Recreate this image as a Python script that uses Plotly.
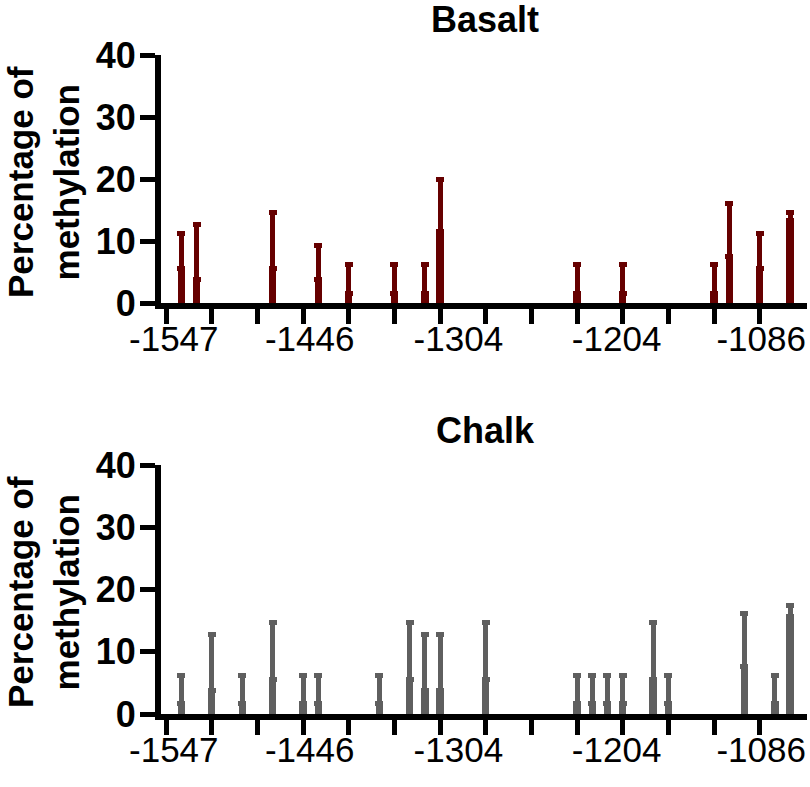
import plotly.graph_objects as go
from plotly.subplots import make_subplots

# ---- data ----
# site slot index along the promoter (ordered CpG sites)
basalt_sites = [1, 2, 7, 10, 12, 15, 17, 18, 27, 30, 36, 37, 39, 41]
basalt_mean = [5.6, 3.8, 5.6, 3.8, 1.65, 1.65, 1.65, 11.6, 1.65, 1.65, 1.65, 7.6, 5.6, 13.4]
basalt_err = [5.6, 8.9, 9.1, 5.5, 4.55, 4.55, 4.55, 8.4, 4.55, 4.55, 4.55, 8.5, 5.6, 1.3]

chalk_sites = [1, 3, 5, 7, 9, 10, 14, 16, 17, 18, 21, 27, 28, 29, 30, 32, 33, 38, 40, 41]
chalk_mean = [1.65, 3.7, 1.65, 5.6, 1.65, 1.65, 1.65, 5.6, 3.7, 3.7, 5.6, 1.65, 1.65, 1.65, 1.65, 5.6, 1.65, 7.6, 1.65, 15.7]
chalk_err = [4.55, 9.0, 4.55, 9.1, 4.55, 4.55, 4.55, 9.1, 9.0, 9.0, 9.1, 4.55, 4.55, 4.55, 4.55, 9.1, 4.55, 8.5, 4.55, 1.8]

tick_label_pos = [0.5, 9.43, 19.2, 29.6, 39.1]
tick_labels = ["-1547", "-1446", "-1304", "-1204", "-1086"]
minor_tick_pos = list(range(0, 42, 3))
y_ticks = [0, 10, 20, 30, 40]

panel_titles = ["Basalt", "Chalk"]
colors = ["#660000", "#5f5f5f"]

FONT = "Liberation Sans, Arial, sans-serif"

W, H = 810, 787
ML, MR, MT, MB = 161, 3, 55, 73
PW, PH = W - ML - MR, H - MT - MB

fig = make_subplots(rows=2, cols=1)

for i, (sites, mean, err) in enumerate([(basalt_sites, basalt_mean, basalt_err),
                                         (chalk_sites, chalk_mean, chalk_err)]):
    fig.add_trace(go.Bar(
        x=sites, y=mean, width=0.48,
        marker=dict(color=colors[i], line=dict(width=0)),
        error_y=dict(type="data", symmetric=False, array=err,
                     arrayminus=[0] * len(err), color=colors[i],
                     thickness=5, width=4),
        showlegend=False,
    ), row=i + 1, col=1)

xaxis_common = dict(
    range=[-0.34, 42.11], automargin=False,
    showline=True, linewidth=6, linecolor="black",
    tickmode="array", tickvals=tick_label_pos, ticktext=tick_labels,
    ticks="", ticklabelstandoff=0,
    tickfont=dict(family=FONT, size=35, color="black"),
    minor=dict(tickmode="array", tickvals=minor_tick_pos, ticks="outside",
               ticklen=15, tickwidth=5, tickcolor="black"),
    showgrid=False, zeroline=False,
)
yaxis_common = dict(
    range=[0, 40], automargin=False,
    showline=True, linewidth=6, linecolor="black",
    tickmode="array", tickvals=y_ticks,
    ticks="outside", ticklen=15, tickwidth=5, tickcolor="black",
    ticklabelstandoff=-3,
    tickfont=dict(family=FONT, size=36, color="black", weight="bold"),
    showgrid=False, zeroline=False,
)

fig.update_layout(
    width=W, height=H,
    margin=dict(l=ML, r=MR, t=MT, b=MB, autoexpand=False),
    plot_bgcolor="white", paper_bgcolor="white",
    bargap=0,
    xaxis=dict(domain=[0, 1], **xaxis_common),
    xaxis2=dict(domain=[0, 1], **xaxis_common),
    yaxis=dict(domain=[(H - MB - 303.3) / PH, 1], **yaxis_common),
    yaxis2=dict(domain=[0, (H - MB - 465) / PH], **yaxis_common),
)

# panel titles and y-axis titles (pixel positions inside the figure)
title_y_px = [19, 430]
ytitle_y_px = [182, 592]
for i in range(2):
    fig.add_annotation(
        text="<b>%s</b>" % panel_titles[i], xref="paper", yref="paper",
        x=(485 - ML) / PW, y=(H - MB - title_y_px[i]) / PH,
        xanchor="center", yanchor="middle", showarrow=False,
        font=dict(family=FONT, size=36, color="black"),
    )
    fig.add_annotation(
        text="<b>Percentage of<br>methylation</b>", xref="paper", yref="paper",
        x=(43 - ML) / PW, y=(H - MB - ytitle_y_px[i]) / PH,
        xanchor="center", yanchor="middle", showarrow=False, textangle=-90,
        font=dict(family=FONT, size=35, color="black"),
    )

fig.write_html("out.html", config={"displayModeBar": False},
               post_script="document.body.style.margin='0px';")
